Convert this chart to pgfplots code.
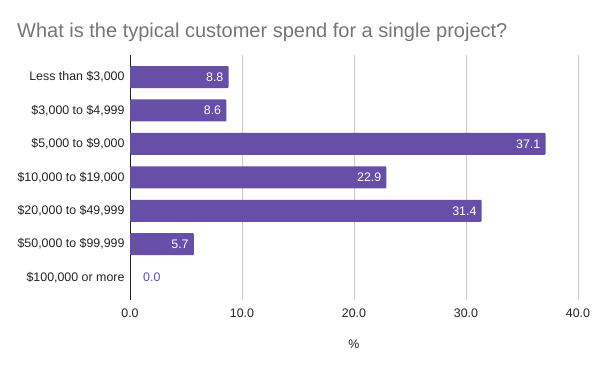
\documentclass[border=0pt]{standalone}
\usepackage{pgfplots}
\pgfplotsset{compat=1.18}
\usepackage{fontspec}
\setmainfont{Liberation Sans}
\definecolor{barpurple}{HTML}{674EA7}
\definecolor{gridgray}{HTML}{CCCCCC}
\definecolor{titlegray}{HTML}{757575}
\definecolor{textdark}{HTML}{222222}
\begin{document}
\begin{tikzpicture}[x=1pt,y=1pt]
\path (0,0) rectangle (600,371);
\node[anchor=base west, font=\fontsize{20}{24}\selectfont, text=titlegray, inner sep=0] at (17,333) {What is the typical customer spend for a single project?};
\begin{axis}[
  at={(130pt,71pt)}, anchor=south west,
  scale only axis, width=448pt, height=245pt,
  xbar, bar width=22pt, bar shift=0pt,
  xmin=0, xmax=40,
  ymin=-0.66, ymax=6.67, y dir=reverse,
  ytick={0,...,6},
  yticklabels={{Less than \$3,000},{\$3,000 to \$4,999},{\$5,000 to \$9,000},{\$10,000 to \$19,000},{\$20,000 to \$49,999},{\$50,000 to \$99,999},{\$100,000 or more}},
  xtick={0,10,20,30,40},
  xticklabels={0.0,10.0,20.0,30.0,40.0},
  xmajorgrids, grid style={gridgray, line width=1pt},
  extra x ticks={0}, extra x tick labels={},
  extra x tick style={grid style={draw=textdark, line width=1pt}},
  axis line style={draw=none},
  major tick length=0pt,
  tick label style={font=\fontsize{12.4}{14}\selectfont, text=textdark},
  xticklabel style={yshift=-5pt},
  yticklabel style={xshift=-2pt},
  nodes near coords={\pgfmathprintnumber[fixed,zerofill,precision=1,assume math mode=true]{\pgfplotspointmeta}},
  nodes near coords style={font=\fontsize{12.4}{14}\selectfont, inner sep=0pt},
]
\addplot[fill=barpurple, draw=none, rounded corners=1pt,
  nodes near coords style={anchor=east, xshift=-5pt, text=white}]
  coordinates {(8.8,0) (8.6,1) (37.1,2) (22.9,3) (31.4,4) (5.7,5)};
\addplot[draw=none, fill=none,
  nodes near coords style={anchor=west, xshift=13pt, text=barpurple}]
  coordinates {(0,6)};
\end{axis}
\node[anchor=base, font=\fontsize{12.4}{14}\selectfont, text=textdark, inner sep=0] at (354,22) {\%};
\end{tikzpicture}
\end{document}
